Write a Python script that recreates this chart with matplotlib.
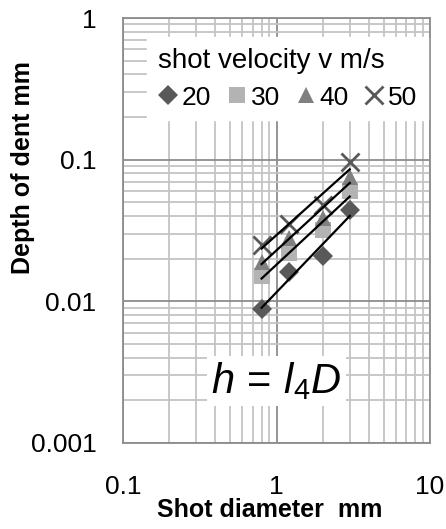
import numpy as np
import matplotlib
matplotlib.use('Agg')
import matplotlib.pyplot as plt
from matplotlib.ticker import LogLocator, FixedLocator, NullFormatter

plt.rcParams['font.family'] = ['Liberation Sans', 'DejaVu Sans']
plt.rcParams['mathtext.fontset'] = 'custom'
plt.rcParams['mathtext.rm'] = 'Liberation Sans'
plt.rcParams['mathtext.it'] = 'Liberation Sans:italic'

# shot diameter (mm) and dent depth (mm) for each shot velocity
diameter = [0.8, 1.2, 2.0, 3.0]
depth_20 = [0.0088, 0.016, 0.021, 0.044]
depth_30 = [0.015, 0.022, 0.032, 0.060]
depth_40 = [0.019, 0.028, 0.039, 0.076]
depth_50 = [0.025, 0.035, 0.048, 0.097]
labels = ['20', '30', '40', '50']

markers = ['D', 's', '^', 'x']
colors = ['#595959', '#b3b3b3', '#808080', '#595959']
sizes = [10, 11, 12, 13]

fig = plt.figure(figsize=(4.46, 5.29), dpi=100)
ax = fig.add_axes([123/446, 1-443/529, 307/446, 425/529])
ax.set_xscale('log')
ax.set_yscale('log')
ax.set_xlim(0.1, 10)
ax.set_ylim(0.001, 1)

d = np.array(diameter)
for ys, m, c, s, lab in zip([depth_20, depth_30, depth_40, depth_50], markers, colors, sizes, labels):
    ys = np.array(ys)
    ax.plot(d, ys, linestyle='none', marker=m, color=c, ms=s, mew=2 if m == 'x' else 0,
            label=lab, zorder=3)
    k, b = np.polyfit(np.log10(d), np.log10(ys), 1)
    xf = np.array([d.min(), d.max()])
    ax.plot(xf, 10**(b + k*np.log10(xf)), color='black', lw=1.6, zorder=4)

ax.xaxis.set_major_locator(FixedLocator([0.1, 1, 10]))
ax.yaxis.set_major_locator(FixedLocator([0.001, 0.01, 0.1, 1]))
ax.set_xticklabels(['0.1', '1', '10'])
ax.set_yticklabels(['0.001', '0.01', '0.1', '1'])
ax.xaxis.set_minor_locator(LogLocator(base=10, subs=np.arange(2, 10)))
ax.yaxis.set_minor_locator(LogLocator(base=10, subs=np.arange(2, 10)))
ax.xaxis.set_minor_formatter(NullFormatter())
ax.yaxis.set_minor_formatter(NullFormatter())
ax.tick_params(which='both', length=0, labelsize=19)
ax.tick_params(axis='x', pad=23)
ax.tick_params(axis='y', pad=19)
ax.grid(which='major', color='#8c8c8c', lw=1.3, zorder=0)
ax.grid(which='minor', color='#c4c4c4', lw=1.3, zorder=0)
for sp in ax.spines.values():
    sp.set_color('#8c8c8c')
    sp.set_linewidth(1.3)

ax.set_xlabel('Shot diameter  mm', fontsize=18, fontweight='bold', va='center')
ax.xaxis.set_label_coords(0.479, -0.158)
ax.set_ylabel('Depth of dent mm', fontsize=18, fontweight='bold', va='center')
ax.yaxis.set_label_coords(-0.326, 0.647)

leg = ax.legend(title='shot velocity v m/s', ncol=4, loc='upper right',
                bbox_to_anchor=(0.9935, 0.955), fontsize=19, title_fontsize=20,
                handlelength=0.75, handletextpad=0.15, columnspacing=0.6,
                frameon=True, fancybox=False, borderpad=0.4, borderaxespad=0,
                labelspacing=0.45, alignment='left')
leg.get_frame().set_edgecolor('white')
leg.get_frame().set_facecolor('white')
leg.get_frame().set_alpha(1)

ax.text(0.5, 0.145, r'$h\,=\,l_{\mathrm{4}}D$', transform=ax.transAxes, fontsize=30,
        ha='center', va='center', zorder=5,
        bbox=dict(facecolor='white', edgecolor='none', pad=3))

fig.savefig('out.png', dpi=100)
